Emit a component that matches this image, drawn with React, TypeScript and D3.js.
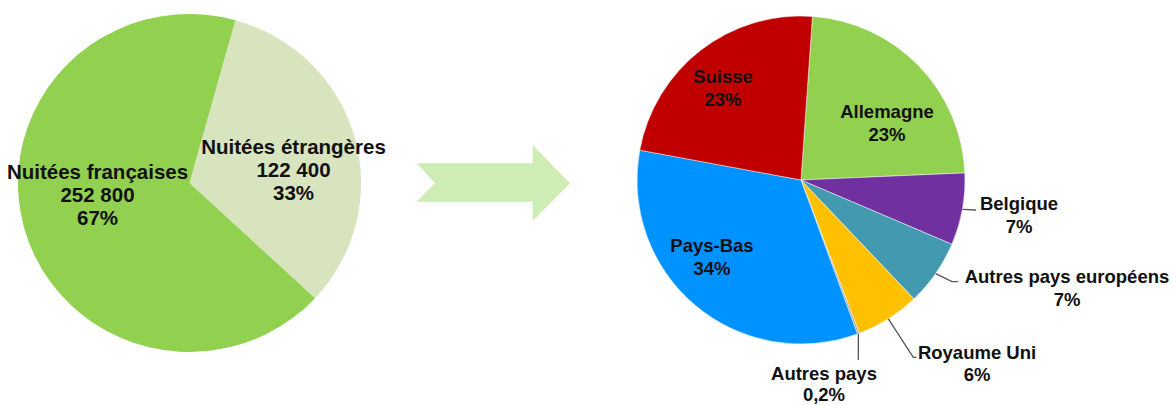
import React, { useEffect, useRef } from "react";
import * as d3 from "d3";

// left pie : nuitées
const stayCategories = ["Nuitées étrangères", "Nuitées françaises"];
const stayValues = [122400, 252800];
const stayNumbers = ["122 400", "252 800"];
const stayPercents = ["33%", "67%"];
const stayColors = ["#D7E4BD", "#92D050"];

// right pie : origine des nuitées étrangères
const countries = [
  "Allemagne",
  "Belgique",
  "Autres pays européens",
  "Royaume Uni",
  "Autres pays",
  "Pays-Bas",
  "Suisse",
];
const countryValues = [23.2, 7.1, 6.5, 6.3, 0.2, 33.5, 23.2];
const countryLabels = ["23%", "7%", "7%", "6%", "0,2%", "34%", "23%"];
const countryColors = [
  "#92D050",
  "#7030A0",
  "#4399B0",
  "#FFC000",
  "#A6A6A6",
  "#0092FF",
  "#C00000",
];

const FONT = "'Liberation Sans', Arial, sans-serif";

const App = () => {
  const svgRef = useRef<SVGSVGElement>(null);

  useEffect(() => {
    const svg = d3.select(svgRef.current);
    svg.selectAll("*").remove();

    // ---- left pie (slightly wider than tall in the source)
    const left = svg.append("g").attr("transform", "translate(189.5,183) scale(1.015,1)");
    const leftPie = d3
      .pie<number>()
      .sort(null)
      .startAngle((15.5 * Math.PI) / 180)
      .endAngle((15.5 * Math.PI) / 180 + 2 * Math.PI);
    const leftArc = d3.arc<d3.PieArcDatum<number>>().innerRadius(0).outerRadius(169);

    left
      .selectAll("path")
      .data(leftPie(stayValues))
      .enter()
      .append("path")
      .attr("d", leftArc)
      .attr("fill", (d, i) => stayColors[i]);

    const leftLabels = svg.append("g").attr("transform", "translate(189.5,183)");
    const leftLabelPos = [
      [104, -29],
      [-92, -4],
    ];
    stayCategories.forEach((c, i) => {
      const t = leftLabels
        .append("text")
        .attr("x", leftLabelPos[i][0])
        .attr("y", leftLabelPos[i][1])
        .attr("text-anchor", "middle")
        .attr("font-family", FONT)
        .attr("font-weight", "bold")
        .attr("font-size", 20.5)
        .attr("fill", "#111");
      [c, stayNumbers[i], stayPercents[i]].forEach((line, k) => {
        t.append("tspan").attr("x", leftLabelPos[i][0]).attr("dy", k === 0 ? 0 : 23).text(line);
      });
    });

    // ---- arrow
    svg
      .append("path")
      .attr(
        "d",
        "M416.7,163.3 L532.7,163.3 L532.7,145 L570,183.3 L532.7,221 L532.7,201.7 L416.7,201.7 L435,183.3 Z"
      )
      .attr("fill", "#CDEDB4");

    // ---- right pie
    const cx = 801;
    const cy = 180;
    const r = 164;
    const right = svg.append("g").attr("transform", `translate(${cx},${cy})`);
    const start = (4 * Math.PI) / 180;
    const rightPie = d3
      .pie<number>()
      .sort(null)
      .startAngle(start)
      .endAngle(start + 2 * Math.PI);
    const rightArc = d3.arc<d3.PieArcDatum<number>>().innerRadius(0).outerRadius(r);
    const arcs = rightPie(countryValues);

    right
      .selectAll("path")
      .data(arcs)
      .enter()
      .append("path")
      .attr("d", rightArc)
      .attr("fill", (d, i) => countryColors[i])
      .attr("stroke", "#fff")
      .attr("stroke-opacity", 0.6)
      .attr("stroke-width", 0.8);

    // label layout: [x, y of first baseline] relative to pie center, plus leader end (null = inside)
    const rightLabelPos: { x: number; y: number; leader: number[][] | null }[] = [
      { x: 86, y: -62, leader: null },
      { x: 218, y: 30, leader: [[175, 30]] },
      { x: 266, y: 103, leader: [[151, 101.7], [157, 101.7]] },
      { x: 176, y: 178.5, leader: [[112.3, 177.3], [115.5, 177.3]] },
      { x: 23, y: 200, leader: [[57.3, 180]] },
      { x: -89, y: 72, leader: null },
      { x: -78, y: -97, leader: null },
    ];

    arcs.forEach((a, i) => {
      const pos = rightLabelPos[i];
      if (pos.leader) {
        const mid = (a.startAngle + a.endAngle) / 2;
        const p0 = [r * Math.sin(mid), -r * Math.cos(mid)];
        right
          .append("path")
          .attr("d", d3.line()([p0 as [number, number], ...(pos.leader as [number, number][])]))
          .attr("fill", "none")
          .attr("stroke", "#555")
          .attr("stroke-width", 1.3);
      }
      const t = right
        .append("text")
        .attr("x", pos.x)
        .attr("y", pos.y)
        .attr("text-anchor", "middle")
        .attr("font-family", FONT)
        .attr("font-weight", "bold")
        .attr("font-size", 18.5)
        .attr("fill", "#111");
      [countries[i], countryLabels[i]].forEach((line, k) => {
        t.append("tspan")
          .attr("x", pos.x)
          .attr("dy", k === 0 ? 0 : i === 4 ? 21 : 22.5)
          .text(line);
      });
    });
  }, []);

  return (
    <svg
      ref={svgRef}
      width={1173}
      height={405}
      style={{ position: "absolute", left: 0, top: 0, background: "#fff" }}
    ></svg>
  );
};

export default App;
